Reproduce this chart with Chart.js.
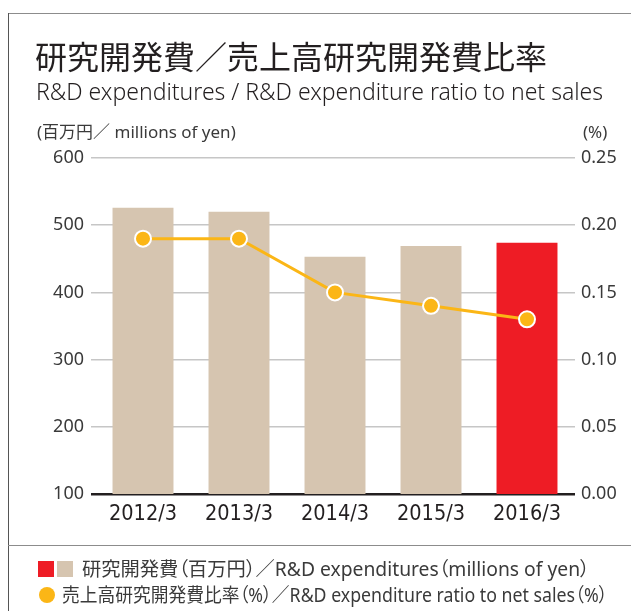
<!DOCTYPE html>
<html>
<head>
<meta charset="utf-8">
<script src="https://cdn.jsdelivr.net/npm/chart.js@4"></script>
<style>
  html, body { margin: 0; padding: 0; background: #fff; }
  body { width: 631px; height: 611px; position: relative; overflow: hidden;
    font-family: "Noto Sans", "Noto Sans CJK JP", sans-serif; color: #231f20; }
  #chart { position: absolute; left: 0; top: 0; }
  .frame-top { position: absolute; left: 8px; top: 13px; width: 623px; height: 0; border-top: 1.5px solid #8c8c8c; }
  .frame-left { position: absolute; left: 8px; top: 13px; width: 0; height: 598px; border-left: 1px solid #555; }
  .frame-sep { position: absolute; left: 8px; top: 545px; width: 623px; height: 0; border-top: 1.5px solid #8c8c8c; }
  .txt { position: absolute; white-space: nowrap; line-height: 1; }
  .title { left: 35px; top: 39px; font-family: "Noto Sans CJK JP", sans-serif; font-size: 32px; }
  .subtitle { left: 36px; top: 80px; font-size: 23px; font-weight: 300; }
  .unit { top: 123px; font-size: 17px; color: #3a3a3a; }
  .legend { font-size: 19.3px; color: #3a3a3a; font-feature-settings: "palt"; transform-origin: left center; }
  .sq { position: absolute; width: 16px; height: 16px; }
  .dot { position: absolute; width: 16px; height: 16px; border-radius: 50%; }
</style>
</head>
<body>
<canvas id="chart" width="631" height="611"></canvas>
<div class="frame-top"></div>
<div class="frame-left"></div>
<div class="frame-sep"></div>
<div class="txt title">研究開発費／売上高研究開発費比率</div>
<div class="txt subtitle">R&amp;D expenditures / R&amp;D expenditure ratio to net sales</div>
<div class="txt unit" style="left:37px;">(百万円／ millions of yen)</div>
<div class="txt unit" style="left:583px;">(%)</div>
<div class="sq" style="left:38px; top:561px; background:#ee1c25;"></div>
<div class="sq" style="left:57px; top:561px; background:#d6c5b0;"></div>
<div class="txt legend" style="left:82px; top:559px;">研究開発費（百万円）／R&amp;D expenditures（millions of yen）</div>
<div class="dot" style="left:39px; top:587px; background:#fbb616;"></div>
<div class="txt legend" style="left:62px; top:585px; transform: scaleX(0.92);">売上高研究開発費比率（%）／R&amp;D expenditure ratio to net sales（%）</div>
<script>
const years = ['2012/3', '2013/3', '2014/3', '2015/3', '2016/3'];
const expenditures = [526, 520, 453, 469, 474];
const ratio = [0.19, 0.19, 0.15, 0.14, 0.13];
const leftTicks = [100, 600, 100];
const rightTicks = [0, 0.25, 0.05];

const barColors = years.map((y, i) => i === years.length - 1 ? '#ee1c25' : '#d6c5b0');
const tickFont = { family: '"Noto Sans", sans-serif', size: 18 };

const ctx = document.getElementById('chart');

new Chart(ctx, {
  data: {
    labels: years,
    datasets: [
      {
        type: 'line',
        data: ratio,
        yAxisID: 'y1',
        order: 0,
        borderColor: '#fbb616',
        borderWidth: 3,
        pointRadius: 8,
        pointBackgroundColor: '#fbb616',
        pointBorderColor: '#fff',
        pointBorderWidth: 2,
        tension: 0,
      },
      {
        type: 'bar',
        data: expenditures,
        yAxisID: 'y',
        order: 1,
        backgroundColor: barColors,
        categoryPercentage: 1,
        barPercentage: 0.635,
      },
    ],
  },
  options: {
    responsive: false,
    animation: false,
    layout: { padding: { top: 158, bottom: 65, left: 0, right: 0 } },
    plugins: { legend: { display: false }, tooltip: { enabled: false } },
    scales: {
      x: {
        grid: { display: false, drawTicks: false },
        border: { display: false },
        ticks: {
          padding: 8,
          color: '#231f20',
          font: { family: '"DejaVu Sans Condensed", sans-serif', size: 21.5 },
        },
        afterFit: (scale) => { scale.height = 52; },
      },
      y: {
        position: 'left',
        min: leftTicks[0],
        max: leftTicks[1],
        ticks: { stepSize: leftTicks[2], padding: 7, color: '#3a3a3a', font: tickFont },
        grid: {
          tickLength: 4,
          color: (c) => c.tick && c.tick.value === leftTicks[0] ? '#231f20' : '#c6c6c6',
          lineWidth: (c) => c.tick && c.tick.value === leftTicks[0] ? 2.5 : 1.5,
        },
        border: { display: false },
        afterFit: (scale) => { scale.width = 95; },
      },
      y1: {
        position: 'right',
        min: rightTicks[0],
        max: rightTicks[1],
        ticks: {
          stepSize: rightTicks[2],
          padding: 6,
          color: '#3a3a3a',
          font: tickFont,
          callback: (v) => Number(v).toFixed(2),
        },
        grid: { drawOnChartArea: false, drawTicks: false },
        border: { display: false },
        afterFit: (scale) => { scale.width = 56; },
      },
    },
  },
});
</script>
</body>
</html>
